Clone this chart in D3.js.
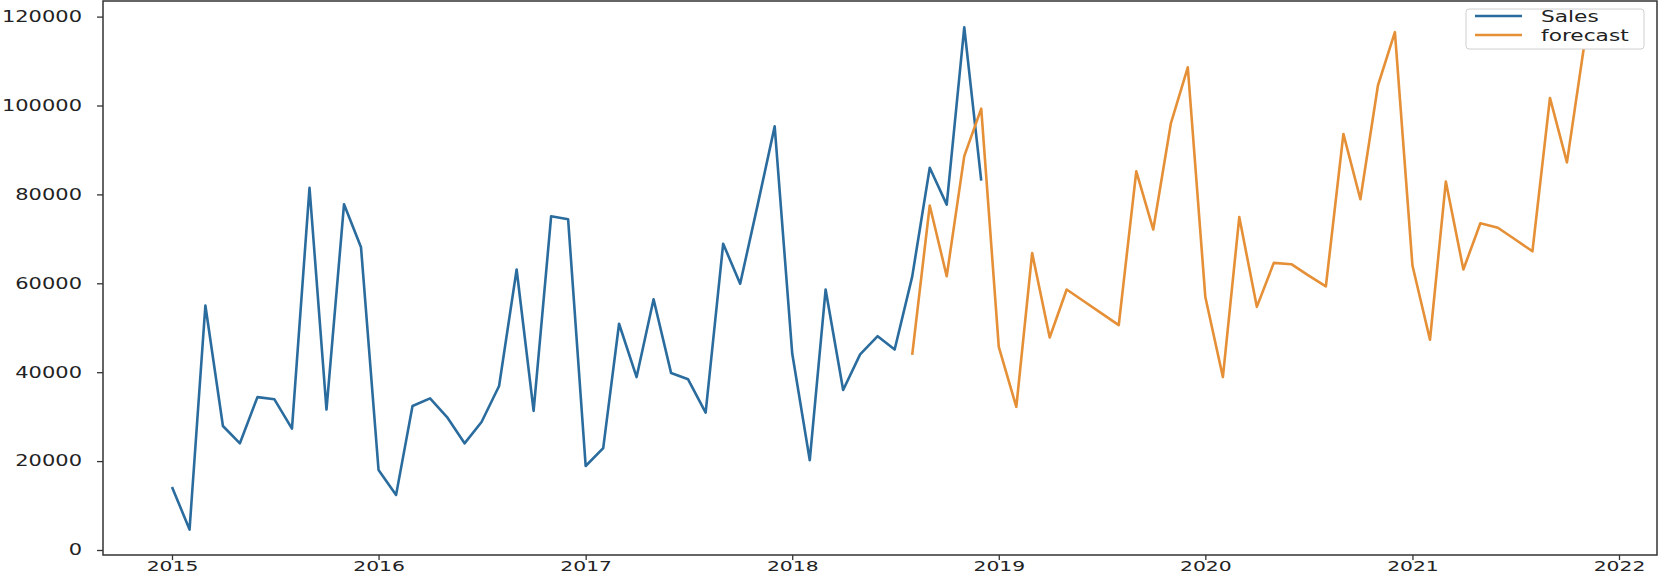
<!DOCTYPE html>
<html>
<head>
<meta charset="utf-8">
<script src="https://cdn.jsdelivr.net/npm/d3@7"></script>
<style>
  html, body { margin: 0; padding: 0; background: #fff; }
  svg { display: block; }
  text { font-family: "DejaVu Sans", sans-serif; fill: #222; }
</style>
</head>
<body>
<svg id="chart" width="1660" height="575"></svg>
<script>
// ---- data ----
const salesStart = "2015-01";
const salesValues = [
  14200, 4600, 55000, 27900, 24000, 34400, 33900, 27300, 81500, 31600, 77800, 68100,
  18000, 12400, 32400, 34100, 29900, 24000, 28800, 36900, 63100, 31300, 75100, 74400,
  18900, 22900, 50900, 38900, 56400, 39800, 38400, 30900, 68900, 59900, 77700, 95300,
  44200, 20200, 58600, 36000, 44000, 48100, 45100, 61500, 86000, 77700, 117600, 83100
];
const forecastStart = "2018-08";
const forecastValues = [
  43900, 77500, 61600, 88600, 99300,
  45700, 32200, 66800, 47800, 58600, 55900, 53300, 50600, 85200, 72100, 95900, 108600,
  56900, 38900, 74900, 54700, 64600, 64300, 61800, 59300, 93600, 78900, 104500, 116500,
  64000, 47300, 82900, 63100, 73500, 72500, 69900, 67200, 101700, 87200, 114000
];
const yTicks = [0, 20000, 40000, 60000, 80000, 100000, 120000];
const xTickYears = [2015, 2016, 2017, 2018, 2019, 2020, 2021, 2022];
const seriesNames = ["Sales", "forecast"];
const seriesColors = ["#2b6c9e", "#e58f36"];

// ---- layout ----
const svg = d3.select("#chart");
const plot = { left: 103, right: 1657, top: 1, bottom: 555 };
const textStretch = 1.4;

const parseMonth = d3.utcParse("%Y-%m");
function toSeries(start, values) {
  const s = parseMonth(start);
  return values.map((v, i) => ({ date: d3.utcMonth.offset(s, i), value: v }));
}
const sales = toSeries(salesStart, salesValues);
const forecast = toSeries(forecastStart, forecastValues);

const x = d3.scaleUtc()
  .domain([new Date(Date.UTC(2015, 0, 1)), new Date(Date.UTC(2022, 0, 1))])
  .range([172, 1619]);
const y = d3.scaleLinear().domain([0, 120000]).range([550, 16.6]);

svg.append("defs").append("clipPath").attr("id", "clip")
  .append("rect")
  .attr("x", plot.left).attr("y", plot.top)
  .attr("width", plot.right - plot.left).attr("height", plot.bottom - plot.top);

const line = d3.line().x(d => x(d.date)).y(d => y(d.value));

const g = svg.append("g").attr("clip-path", "url(#clip)");
[sales, forecast].forEach((s, i) => {
  g.append("path")
    .datum(s)
    .attr("d", line)
    .attr("fill", "none")
    .attr("stroke", seriesColors[i])
    .attr("stroke-width", 2.6)
    .attr("stroke-linejoin", "round");
});

// axes
const yAxis = d3.axisLeft(y).tickValues(yTicks).tickFormat(d3.format("d")).tickSize(6).tickSizeOuter(0);
const yG = svg.append("g").attr("transform", `translate(${plot.left},0)`).call(yAxis);
yG.select(".domain").remove();
yG.selectAll(".tick line").attr("stroke", "#333").attr("stroke-width", 1.3);
yG.selectAll(".tick text")
  .attr("x", -15)
  .attr("transform", `scale(${textStretch},1)`)
  .style("font-size", "15px")
  .style("font-family", "DejaVu Sans, sans-serif")
  .attr("fill", "#222");

const xAxis = d3.axisBottom(x)
  .tickValues(xTickYears.map(yr => new Date(Date.UTC(yr, 0, 1))))
  .tickFormat(d3.utcFormat("%Y")).tickSize(5).tickSizeOuter(0);
const xG = svg.append("g").attr("transform", `translate(0,${plot.bottom})`).call(xAxis);
xG.select(".domain").remove();
xG.selectAll(".tick line").attr("stroke", "#333").attr("stroke-width", 1.3);
xG.selectAll(".tick text")
  .attr("y", 5.5)
  .attr("transform", `scale(${textStretch},1)`)
  .style("font-size", "14.5px")
  .style("font-family", "DejaVu Sans, sans-serif")
  .attr("fill", "#222");

// spines
svg.append("rect")
  .attr("x", plot.left).attr("y", plot.top)
  .attr("width", plot.right - plot.left).attr("height", plot.bottom - plot.top)
  .attr("fill", "none").attr("stroke", "#333").attr("stroke-width", 1.5);

// legend
const leg = svg.append("g");
leg.append("rect")
  .attr("x", 1466).attr("y", 9).attr("width", 178).attr("height", 40)
  .attr("rx", 3).attr("fill", "#fff").attr("stroke", "#d0d0d0").attr("stroke-width", 1);
seriesNames.forEach((name, i) => {
  const ly = 16 + i * 19;
  leg.append("line")
    .attr("x1", 1475).attr("x2", 1522).attr("y1", ly).attr("y2", ly)
    .attr("stroke", seriesColors[i]).attr("stroke-width", 2.4);
  leg.append("text")
    .attr("transform", `translate(1541,${ly + 5.5}) scale(${textStretch},1)`)
    .style("font-size", "15.5px")
    .text(name);
});
</script>
</body>
</html>
